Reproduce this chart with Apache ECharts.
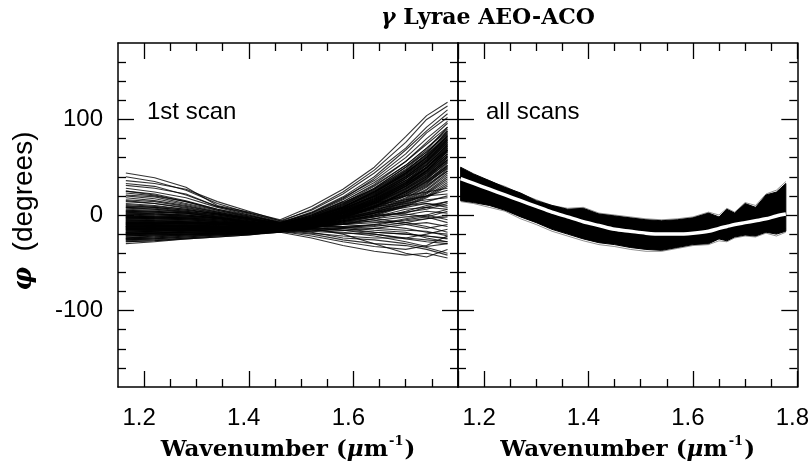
<!DOCTYPE html>
<html>
<head>
<meta charset="utf-8">
<script src="https://cdn.jsdelivr.net/npm/echarts@6.0.0/dist/echarts.min.js"></script>
<style>
  html, body { margin: 0; padding: 0; background: #fff; }
  #chart { width: 812px; height: 471px; }
</style>
</head>
<body>
<div id="chart"></div>
<script>
// Wavenumbers (µm^-1) at which each first-scan phase trace is sampled
const scanWavenumbers = [1.165, 1.22, 1.28, 1.34, 1.40, 1.46, 1.52, 1.58, 1.64, 1.70, 1.74, 1.78];

// First scan, phase (degrees): traces that climb toward high wavenumber
const firstScanRising = [
  [44, 39, 29, 10, 3, -5, 9, 27, 50, 82, 104, 118],
  [40, 35, 26, 12, 2, -7, 6, 24, 47, 76, 100, 114],
  [36, 33, 27, 14, 4, -6, 5, 22, 44, 70, 92, 110],
  [31, 28, 22, 9, 1, -8, 3, 19, 40, 68, 88, 106],
  [28, 24, 18, 8, 0, -9, 2, 18, 36, 60, 80, 98],
  [25, 22, 15, 6, -1, -8, 1, 16, 34, 56, 74, 92],
  [21, 19, 12, 5, -2, -10, 0, 14, 31, 52, 70, 88],
  [18, 15, 10, 3, -3, -11, -1, 12, 28, 50, 66, 85],
  [14, 12, 8, 2, -4, -9, 0, 13, 27, 47, 63, 82],
  [11, 9, 6, 1, -4, -10, -2, 10, 25, 44, 60, 80],
  [8, 7, 4, 0, -5, -11, -3, 9, 24, 42, 58, 78],
  [6, 5, 3, -1, -6, -12, -4, 8, 22, 40, 56, 76],
  [4, 3, 2, -2, -7, -12, -4, 7, 20, 38, 53, 74],
  [3, 1, 0, -3, -7, -11, -5, 5, 18, 36, 52, 72],
  [1, 0, -1, -4, -8, -13, -5, 4, 17, 34, 50, 70],
  [0, -1, -2, -5, -9, -12, -6, 3, 16, 33, 48, 68],
  [-1, -2, -3, -6, -9, -13, -6, 2, 14, 31, 46, 66],
  [-2, -3, -4, -7, -10, -12, -7, 2, 13, 30, 44, 64],
  [-3, -4, -5, -7, -10, -14, -7, 1, 12, 28, 42, 62],
  [-4, -5, -6, -8, -11, -13, -8, 0, 11, 27, 41, 60],
  [-5, -6, -7, -9, -11, -14, -8, 0, 10, 25, 39, 58],
  [-6, -7, -8, -10, -12, -13, -9, -1, 9, 24, 37, 56],
  [-7, -8, -9, -10, -12, -15, -9, -1, 8, 22, 35, 54],
  [-8, -9, -9, -11, -13, -14, -10, -2, 7, 21, 33, 52],
  [-9, -10, -10, -12, -13, -15, -10, -2, 6, 20, 32, 50],
  [-10, -10, -11, -12, -14, -14, -10, -3, 5, 18, 30, 48],
  [-11, -11, -12, -13, -14, -16, -11, -3, 4, 17, 29, 46],
  [-12, -12, -12, -13, -15, -15, -11, -4, 4, 16, 27, 44],
  [-13, -13, -13, -14, -15, -16, -12, -4, 3, 15, 26, 42],
  [-14, -14, -14, -15, -16, -15, -12, -5, 2, 14, 24, 40],
  [-15, -15, -15, -15, -16, -17, -12, -5, 2, 13, 23, 38],
  [-16, -16, -15, -16, -17, -16, -13, -6, 1, 12, 22, 36],
  [-18, -17, -16, -17, -17, -17, -13, -6, 0, 11, 20, 34],
  [-20, -19, -18, -18, -18, -17, -13, -7, 0, 10, 19, 32],
  [-22, -21, -20, -19, -19, -18, -14, -7, -1, 9, 18, 30],
  [-24, -23, -21, -20, -19, -17, -12, -3, 8, 24, 38, 58],
  [-26, -25, -23, -21, -20, -18, -11, -1, 12, 30, 46, 68],
  [-22, -21, -19, -18, -17, -16, -8, 3, 18, 38, 55, 75],
  [-18, -17, -16, -15, -15, -14, -6, 6, 21, 42, 58, 80],
  [-14, -13, -12, -12, -12, -12, -4, 8, 24, 45, 62, 84],
  [-6, -6, -7, -8, -10, -11, -3, 10, 27, 48, 66, 87],
  [2, 1, 0, -3, -7, -10, -1, 12, 30, 52, 70, 90],
  [-12, -11, -11, -11, -12, -13, -5, 6, 20, 40, 56, 78],
  [-17, -16, -15, -15, -15, -14, -7, 4, 17, 35, 50, 72],
  [-9, -9, -9, -10, -11, -12, -6, 4, 15, 32, 46, 64],
  [5, 4, 2, -2, -6, -10, -2, 9, 24, 44, 60, 82],
  [12, 10, 6, 1, -4, -9, -1, 11, 26, 46, 64, 86],
  [-20, -19, -17, -16, -16, -15, -9, 0, 11, 26, 40, 60],
  [-4, -4, -5, -7, -9, -12, -5, 5, 17, 36, 52, 74],
  [9, 8, 5, 1, -4, -10, -3, 7, 19, 36, 50, 68],
  [-23, -22, -20, -19, -18, -16, -9, 1, 14, 32, 47, 66],
  [-19, -18, -17, -16, -16, -15, -8, 2, 15, 33, 49, 70],
  [-15, -14, -14, -14, -14, -14, -7, 3, 16, 34, 50, 71],
  [-11, -11, -11, -12, -13, -13, -6, 5, 19, 39, 54, 76],
  [-7, -7, -8, -9, -11, -12, -5, 6, 21, 41, 57, 79],
  [-3, -3, -4, -6, -9, -11, -4, 7, 22, 43, 59, 81],
  [1, 1, -1, -4, -8, -11, -3, 8, 23, 43, 60, 83],
  [-21, -20, -18, -17, -17, -16, -10, -1, 10, 24, 36, 52],
  [-13, -12, -12, -13, -14, -14, -9, 0, 12, 28, 42, 58],
  [-5, -5, -6, -8, -10, -12, -7, 2, 14, 30, 44, 62],
  [-16, -15, -14, -14, -15, -14, -6, 5, 19, 38, 53, 73],
  [-10, -9, -9, -10, -12, -13, -4, 8, 23, 44, 61, 83],
  [-25, -24, -22, -20, -19, -17, -10, 0, 13, 30, 45, 64],
  [-1, -2, -3, -5, -8, -12, -6, 3, 15, 32, 47, 67],
  [-8, -8, -8, -9, -11, -13, -8, 1, 12, 27, 40, 57],
  [-18, -17, -16, -16, -16, -15, -11, -3, 7, 20, 31, 46],
  [7, 6, 4, 0, -5, -10, -4, 6, 20, 40, 56, 77],
  [-12, -12, -11, -12, -13, -14, -9, -1, 9, 23, 35, 51],
  [-2, -2, -3, -5, -8, -11, -2, 11, 28, 50, 68, 92],
  [-20, -19, -18, -17, -16, -15, -5, 8, 25, 46, 64, 88],
  [-9, -9, -10, -11, -12, -13, -7, 2, 13, 29, 43, 61],
  [-14, -14, -13, -13, -14, -15, -10, -2, 8, 22, 34, 49],
  [4, 3, 1, -2, -6, -11, -5, 4, 16, 34, 49, 69],
  [-24, -22, -21, -19, -18, -17, -11, -2, 9, 25, 38, 55],
  [16, 14, 9, 3, -3, -9, 0, 14, 32, 56, 76, 96],
  [23, 20, 14, 5, -1, -8, 2, 17, 38, 64, 86, 102]
];

// First scan, phase (degrees): traces that stay flat or turn down
const firstScanFalling = [
  [20, 17, 11, 4, -2, -9, -14, -20, -30, -40, -44, -36],
  [-28, -27, -24, -22, -20, -18, -24, -32, -38, -42, -40, -45],
  [-30, -28, -25, -23, -21, -17, -22, -28, -33, -36, -32, -22],
  [-5, -6, -7, -9, -11, -13, -18, -24, -26, -30, -34, -40],
  [10, 8, 5, 1, -4, -10, -13, -16, -20, -25, -28, -30],
  [-25, -24, -22, -21, -19, -16, -19, -22, -24, -24, -20, -15],
  [-15, -15, -15, -15, -16, -16, -15, -14, -18, -20, -22, -25],
  [0, -1, -2, -4, -7, -11, -12, -12, -10, -14, -18, -20],
  [-20, -19, -18, -17, -17, -15, -12, -10, -6, -10, -14, -10],
  [15, 12, 7, 2, -3, -9, -10, -9, -6, -2, 0, -5],
  [-10, -10, -11, -12, -13, -14, -13, -10, -4, 0, 4, 2],
  [-22, -21, -20, -19, -18, -17, -14, -8, -2, 6, 8, 6],
  [5, 4, 2, -1, -5, -10, -8, -4, 2, 8, 12, 10],
  [-18, -17, -16, -16, -16, -14, -10, -6, 0, 2, 8, 14],
  [-8, -8, -9, -10, -11, -12, -9, -2, 6, 12, 16, 18],
  [25, 21, 14, 6, 0, -8, -5, 0, 8, 14, 20, 22],
  [-12, -12, -12, -13, -14, -13, -8, -2, 10, 16, 20, 26],
  [-2, -3, -4, -6, -9, -12, -6, 2, 12, 20, 24, 28],
  [-26, -25, -23, -21, -20, -17, -13, -9, -4, -8, -12, -18],
  [-16, -16, -16, -16, -16, -15, -16, -18, -22, -28, -33, -30],
  [3, 2, 0, -3, -7, -12, -14, -16, -14, -10, -8, -12],
  [-24, -23, -21, -20, -19, -17, -20, -26, -30, -32, -36, -42],
  [-7, -7, -8, -9, -11, -13, -11, -8, -4, 4, 10, 14],
  [33, 30, 21, 9, 2, -6, -8, -10, -12, -8, -4, 0],
  [-28, -27, -25, -23, -21, -18, -17, -14, -10, -4, 0, 6],
  [-19, -18, -17, -17, -17, -16, -17, -19, -20, -24, -26, -28],
  [-13, -13, -13, -14, -15, -15, -14, -12, -14, -16, -17, -22],
  [-6, -6, -7, -9, -11, -13, -12, -10, -8, -6, -4, -2],
  [-21, -20, -19, -18, -18, -16, -15, -13, -11, -5, -2, 4],
  [1, 0, -1, -3, -7, -11, -10, -7, -2, 3, 6, 12],
  [-27, -26, -24, -22, -20, -17, -16, -16, -18, -20, -22, -24],
  [-11, -11, -11, -12, -13, -14, -11, -5, 2, 10, 14, 20],
  [8, 6, 3, 0, -5, -10, -11, -13, -16, -18, -24, -28],
  [-17, -16, -16, -16, -16, -15, -12, -6, -1, 1, -2, -8],
  [-3, -4, -5, -7, -10, -12, -10, -4, 4, 10, 12, 8]
];

// All scans: wavenumber grid, envelope of the traces and their mean phase (degrees)
const allScanWavenumbers = [1.155, 1.18, 1.21, 1.24, 1.27, 1.30, 1.33, 1.36, 1.39, 1.42, 1.45, 1.48, 1.51,
                            1.54, 1.57, 1.60, 1.63, 1.65, 1.665, 1.68, 1.70, 1.72, 1.74, 1.76, 1.778];
const allScanUpper = [50, 43, 36, 29, 23, 15, 10, 6, 7, 1, -1, -3, -5, -6, -5, -3, 2, -2, 6, 2, 12, 8, 21, 24, 33];
const allScanLower = [15, 13, 10, 5, -2, -8, -15, -20, -25, -29, -31, -34, -36, -37, -34, -31, -30, -25, -27, -23, -21, -22, -18, -20, -17];
const allScanMean  = [38, 33, 27, 21, 15, 9, 3, -2, -7, -11, -15, -17, -19, -20, -20, -19, -17, -14, -12, -10, -8, -6, -4, -1, 1];
// Individual scans running along the edges of the envelope
const allScanEdgeTraces = [
  [48, 42, 35, 30, 22, 16, 10, 7, 8, 2, 0, -2, -4, -5, -4, -2, 3, 0, 7, 3, 13, 10, 22, 26, 35],
  [46, 40, 36, 28, 21, 14, 9, 5, 4, 1, -1, -4, -6, -7, -6, -4, 0, -3, 4, 1, 10, 7, 19, 22, 30],
  [14, 12, 8, 4, -4, -10, -17, -22, -27, -31, -33, -36, -38, -38, -35, -32, -31, -27, -28, -24, -22, -23, -19, -22, -18],
  [17, 14, 11, 6, -1, -7, -14, -19, -24, -28, -30, -33, -35, -36, -33, -30, -28, -24, -26, -22, -19, -21, -16, -18, -14]
];

// Axis ticks and tick labels
const xMajorTicks = [1.2, 1.4, 1.6, 1.8];
const xMinorTicks = [1.25, 1.3, 1.35, 1.45, 1.5, 1.55, 1.65, 1.7, 1.75];
const xLabelsLeft = [1.2, 1.4, 1.6];
const xLabelsRight = [1.2, 1.4, 1.6, 1.8];
const yMajorTicks = [-100, 0, 100];
const yMinorTicks = [-160, -140, -120, -80, -60, -40, -20, 20, 40, 60, 80, 120, 140, 160];
const yLabels = [-100, 0, 100];

const INK = '#000';
const frameLine = { color: INK, width: 1.5 };
const tickLine = { color: INK, width: 1.3 };
const SANS = 'Liberation Sans, Arial, sans-serif';
const SERIF = 'DejaVu Serif, serif';

const xNameRich = {
  t: { fontFamily: SERIF, fontWeight: 'bold', fontSize: 23, color: INK, lineHeight: 30 },
  mu: { fontFamily: SERIF, fontWeight: 'bold', fontStyle: 'italic', fontSize: 23, color: INK, lineHeight: 30 },
  sup: { fontFamily: SERIF, fontWeight: 'bold', fontSize: 13, color: INK, verticalAlign: 'top', lineHeight: 30, padding: [0, 1, 0, 1] }
};

function xAxesFor(gridIndex, labels) {
  const base = { gridIndex, type: 'value', min: 1.15, max: 1.8, splitLine: { show: false } };
  return [
    Object.assign({}, base, {
      position: 'bottom',
      axisLine: { show: true, onZero: false, lineStyle: frameLine },
      axisTick: { show: true, inside: true, length: 16, customValues: xMajorTicks, lineStyle: tickLine },
      axisLabel: {
        show: true, customValues: labels, formatter: v => v.toFixed(1),
        fontFamily: SANS, fontSize: 24, color: INK, margin: 19, padding: [0, 10, 0, 0]
      },
      name: '{t|Wavenumber (}{mu|μ}{t|m}{sup|-1}{t|)}',
      nameLocation: 'middle', nameGap: 46,
      nameTextStyle: { rich: xNameRich }
    }),
    Object.assign({}, base, {
      position: 'bottom',
      axisLine: { show: false, onZero: false },
      axisTick: { show: true, inside: true, length: 8, customValues: xMinorTicks, lineStyle: tickLine },
      axisLabel: { show: false }
    }),
    Object.assign({}, base, {
      position: 'top',
      axisLine: { show: true, onZero: false, lineStyle: frameLine },
      axisTick: { show: true, inside: true, length: 16, customValues: xMajorTicks, lineStyle: tickLine },
      axisLabel: { show: false }
    }),
    Object.assign({}, base, {
      position: 'top',
      axisLine: { show: false, onZero: false },
      axisTick: { show: true, inside: true, length: 8, customValues: xMinorTicks, lineStyle: tickLine },
      axisLabel: { show: false }
    })
  ];
}

function yAxesFor(gridIndex, withLabels) {
  const base = { gridIndex, type: 'value', min: -180, max: 180, splitLine: { show: false } };
  return [
    Object.assign({}, base, {
      position: 'left',
      axisLine: { show: true, onZero: false, lineStyle: frameLine },
      axisTick: { show: true, inside: true, length: 16, customValues: yMajorTicks, lineStyle: tickLine },
      axisLabel: withLabels
        ? { show: true, customValues: yLabels, formatter: v => String(v), fontFamily: SANS, fontSize: 24, color: INK, margin: 15, padding: [8, 0, 0, 0] }
        : { show: false }
    }),
    Object.assign({}, base, {
      position: 'left',
      axisLine: { show: false, onZero: false },
      axisTick: { show: true, inside: true, length: 8, customValues: yMinorTicks, lineStyle: tickLine },
      axisLabel: { show: false }
    }),
    Object.assign({}, base, {
      position: 'right',
      axisLine: { show: true, onZero: false, lineStyle: frameLine },
      axisTick: { show: true, inside: true, length: 16, customValues: yMajorTicks, lineStyle: tickLine },
      axisLabel: { show: false }
    }),
    Object.assign({}, base, {
      position: 'right',
      axisLine: { show: false, onZero: false },
      axisTick: { show: true, inside: true, length: 8, customValues: yMinorTicks, lineStyle: tickLine },
      axisLabel: { show: false }
    })
  ];
}

function traceSeries(xs, ys, axisIndex, style) {
  return {
    type: 'line',
    xAxisIndex: axisIndex,
    yAxisIndex: axisIndex,
    data: xs.map((x, i) => [x, ys[i]]),
    showSymbol: false,
    symbol: 'none',
    silent: true,
    clip: true,
    lineStyle: style,
    z: 2
  };
}

const series = [];
const firstScanStyle = { color: INK, width: 1.1, opacity: 0.8 };
firstScanRising.concat(firstScanFalling).forEach(row => {
  series.push(traceSeries(scanWavenumbers, row, 0, firstScanStyle));
});

// Envelope of all scans, filled between the upper and lower bounds
series.push({
  type: 'custom',
  xAxisIndex: 4,
  yAxisIndex: 4,
  silent: true,
  clip: true,
  z: 3,
  data: [[allScanWavenumbers[0], allScanMean[0]]],
  renderItem: function (params, api) {
    const pts = [];
    for (let i = 0; i < allScanWavenumbers.length; i++) {
      pts.push(api.coord([allScanWavenumbers[i], allScanUpper[i]]));
    }
    for (let i = allScanWavenumbers.length - 1; i >= 0; i--) {
      pts.push(api.coord([allScanWavenumbers[i], allScanLower[i]]));
    }
    return {
      type: 'polygon',
      shape: { points: pts },
      style: { fill: INK, stroke: INK, lineWidth: 1 }
    };
  }
});

allScanEdgeTraces.forEach(row => {
  const s = traceSeries(allScanWavenumbers, row, 4, { color: INK, width: 0.8, opacity: 0.55 });
  s.z = 4;
  series.push(s);
});

const meanSeries = traceSeries(allScanWavenumbers, allScanMean, 4, { color: '#fff', width: 3.5, opacity: 1 });
meanSeries.smooth = 0.3;
meanSeries.z = 5;
series.push(meanSeries);

const chart = echarts.init(document.getElementById('chart'), null, { renderer: 'canvas' });
chart.setOption({
  animation: false,
  backgroundColor: '#fff',
  grid: [
    { left: 118, top: 43, width: 340, height: 344 },
    { left: 458, top: 43, width: 340, height: 344 }
  ],
  xAxis: xAxesFor(0, xLabelsLeft).concat(xAxesFor(1, xLabelsRight)),
  yAxis: yAxesFor(0, true).concat(yAxesFor(1, false)),
  series: series,
  graphic: [
    {
      type: 'text', x: 488, y: 18, z: 10,
      style: {
        text: '{g|γ}{t| Lyrae AEO-ACO}',
        align: 'center', verticalAlign: 'middle',
        rich: {
          g: { fontFamily: SERIF, fontWeight: 'bold', fontStyle: 'italic', fontSize: 22, fill: INK },
          t: { fontFamily: SERIF, fontWeight: 'bold', fontSize: 22, fill: INK }
        }
      }
    },
    {
      type: 'text', x: 147, y: 112, z: 10,
      style: { text: '1st scan', fontFamily: SANS, fontSize: 24, fill: INK, align: 'left', verticalAlign: 'middle' }
    },
    {
      type: 'text', x: 486, y: 112, z: 10,
      style: { text: 'all scans', fontFamily: SANS, fontSize: 24, fill: INK, align: 'left', verticalAlign: 'middle' }
    },
    {
      type: 'text', x: 24, y: 211, rotation: Math.PI / 2, z: 10,
      style: {
        text: '{p|φ}{d|  (degrees)}',
        align: 'center', verticalAlign: 'middle',
        rich: {
          p: { fontFamily: SERIF, fontWeight: 'bold', fontStyle: 'italic', fontSize: 26, fill: INK },
          d: { fontFamily: SANS, fontSize: 28, fill: INK }
        }
      }
    }
  ]
});
</script>
</body>
</html>
